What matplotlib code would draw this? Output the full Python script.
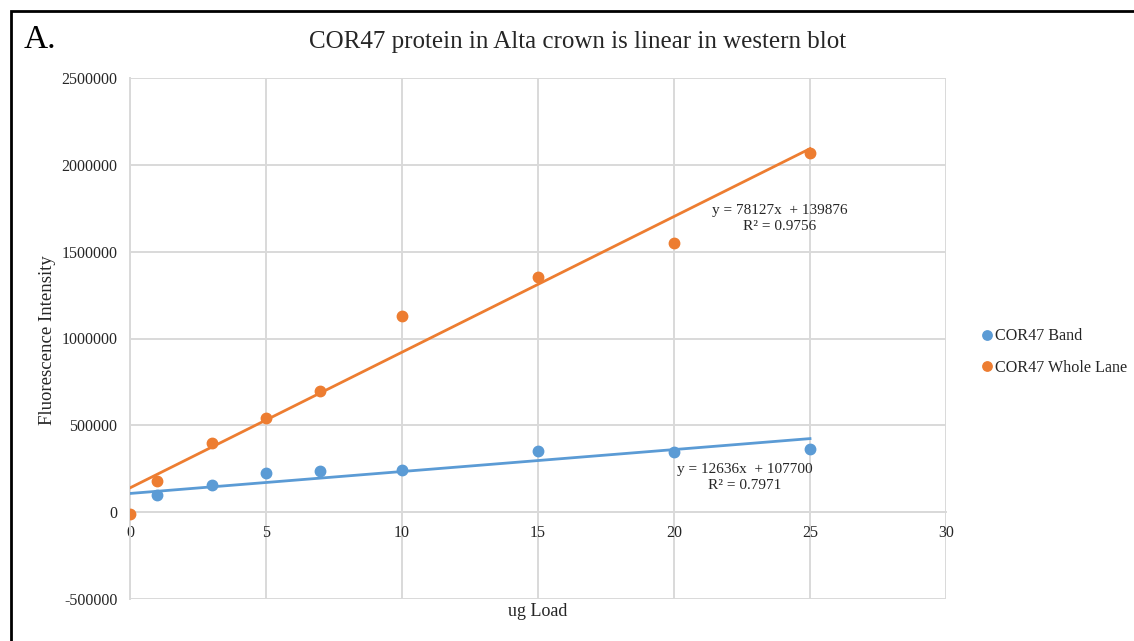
import matplotlib
matplotlib.use("Agg")
import matplotlib.pyplot as plt
from matplotlib.patches import Rectangle
import numpy as np

plt.rcParams['font.family'] = ['Liberation Serif', 'DejaVu Serif']

# Protein load (ug) and measured fluorescence
load_band = [1, 3, 5, 7, 10, 15, 20, 25]
band = [97700, 155000, 224000, 235000, 241000, 350000, 345000, 362000]
load_lane = [0, 1, 3, 5, 7, 10, 15, 20, 25]
lane = [-11500, 178000, 396500, 540000, 695000, 1132000, 1356000, 1552000, 2069000]

# Linear trendline coefficients (slope, intercept, R^2)
band_fit = (12636, 107700, 0.7971)
lane_fit = (78127, 139876, 0.9756)

x_ticks = [0, 5, 10, 15, 20, 25, 30]
y_ticks = [-500000, 0, 500000, 1000000, 1500000, 2000000, 2500000]

BLUE = '#5B9BD5'
ORANGE = '#ED7D31'
GRID = '#D9D9D9'
TEXT = '#262626'

W, H = 1134, 641
fig = plt.figure(figsize=(W / 100, H / 100), dpi=100)
ax = fig.add_axes([130 / W, 1 - 599 / H, (946 - 130) / W, (599 - 78) / H])

ax.set_xlim(0, 30)
ax.set_ylim(-500000, 2500000)
for side in ['top', 'right']:
    ax.spines[side].set_visible(False)
ax.spines['left'].set_color(GRID)
ax.spines['left'].set_linewidth(1.4)
ax.spines['bottom'].set_position(('data', 0))
ax.spines['bottom'].set_color(GRID)
ax.spines['bottom'].set_linewidth(1.4)

ax.set_xticks(x_ticks)
ax.set_yticks(y_ticks)
ax.set_yticklabels([f"{v:d}" for v in y_ticks])
ax.set_xticklabels([str(v) for v in x_ticks])
ax.grid(True, color=GRID, linewidth=1.4)
ax.set_axisbelow(True)
ax.tick_params(length=0, colors=TEXT)
ax.tick_params(axis='x', pad=9, labelsize=11.5)
ax.tick_params(axis='y', pad=9, labelsize=11.5)

# Trendlines
xfit = np.array([0, 25])
for (m, b, _), col in [(band_fit, BLUE), (lane_fit, ORANGE)]:
    ax.plot(xfit, m * xfit + b, color=col, linewidth=2, zorder=3)

ax.plot(load_band, band, 'o', color=BLUE, markersize=7.5, label='COR47 Band', zorder=4)
ax.plot(load_lane, lane, 'o', color=ORANGE, markersize=7.5, label='COR47 Whole Lane', zorder=4)

def eq_text(fit, x, y):
    m, b, r2 = fit
    ax.text(x, y, f"y = {m}x  + {b}\nR\u00b2 = {r2:.4f}", ha='center', va='center',
            fontsize=11, color=TEXT, linespacing=1.35, zorder=5)

eq_text(lane_fit, 23.9, 1690000)
eq_text(band_fit, 22.6, 200000)

ax.set_ylabel('Fluorescence Intensity', fontsize=13.5, color=TEXT, labelpad=0)
ax.yaxis.set_label_coords(56 / W, 1 - 340 / H, transform=fig.transFigure)
fig.text(538 / W, 1 - 612 / H, 'ug Load', ha='center', va='center', fontsize=13, color=TEXT)

fig.text(578 / W, 1 - 42 / H, 'COR47 protein in Alta crown is linear in western blot',
         ha='center', va='center', fontsize=18, color=TEXT)
fig.text(24 / W, 1 - 40 / H, 'A.', ha='left', va='center', fontsize=24, color='black')

fig.legend(loc='center left', bbox_to_anchor=(964 / W, 1 - 352 / H), frameon=False,
           fontsize=11.6, handletextpad=0.05, handlelength=1.0, markerscale=0.9,
           labelspacing=0.95, labelcolor=TEXT)

fig.patches.append(Rectangle((11 / W, -0.05), 1.1, 1 - 11 / H + 0.05,
                             transform=fig.transFigure, fill=False,
                             edgecolor='black', linewidth=2, clip_on=False))

fig.savefig('out.png', dpi=100)
